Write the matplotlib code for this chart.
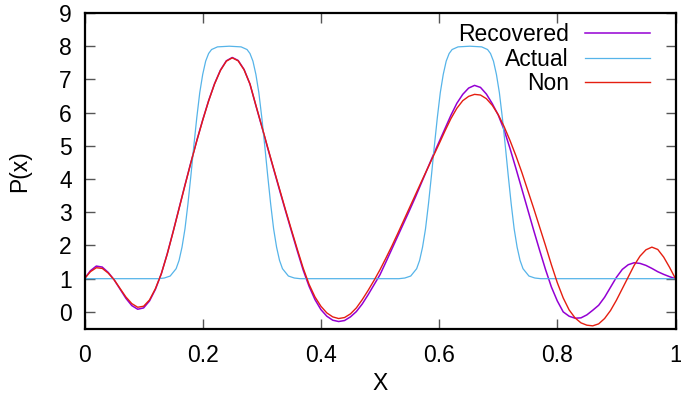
import numpy as np
import matplotlib
matplotlib.use("Agg")
import matplotlib.pyplot as plt

# actual profile: two smoothed top-hats on a baseline of 1
actual_x = [0.0, 0.125, 0.135, 0.145, 0.155, 0.16, 0.165, 0.17, 0.175, 0.18,
            0.185, 0.19, 0.195, 0.2, 0.205, 0.21, 0.215, 0.225, 0.245, 0.265,
            0.275, 0.28, 0.285, 0.29, 0.295, 0.30, 0.305, 0.31, 0.315, 0.32,
            0.325, 0.33, 0.335, 0.345, 0.355, 0.365,
            0.532, 0.542, 0.552, 0.562, 0.567, 0.572, 0.577, 0.582, 0.587,
            0.592, 0.597, 0.602, 0.607, 0.612, 0.617, 0.622, 0.632, 0.652,
            0.672, 0.682, 0.687, 0.692, 0.697, 0.702, 0.707, 0.712, 0.717,
            0.722, 0.727, 0.732, 0.737, 0.742, 0.752, 0.762, 0.772, 1.0]
actual_y = [1.0, 1.0, 1.02, 1.08, 1.3, 1.55, 1.95, 2.5, 3.25, 4.1,
            5.0, 5.85, 6.6, 7.15, 7.55, 7.78, 7.9, 7.98, 8.0, 7.98,
            7.9, 7.78, 7.55, 7.15, 6.6, 5.85, 5.0, 4.1, 3.25, 2.5,
            1.95, 1.55, 1.3, 1.08, 1.02, 1.0,
            1.0, 1.02, 1.08, 1.3, 1.55, 1.95, 2.5, 3.25, 4.1,
            5.0, 5.85, 6.6, 7.15, 7.55, 7.78, 7.9, 7.98, 8.0,
            7.98, 7.9, 7.78, 7.55, 7.15, 6.6, 5.85, 5.0, 4.1,
            3.25, 2.5, 1.95, 1.55, 1.3, 1.08, 1.02, 1.0, 1.0]

# recovered and non-recovered profiles, sampled every 0.01 in x
grid_x = np.linspace(0, 1, 101)
recovered = [1.00, 1.24, 1.38, 1.35, 1.19, 0.97, 0.69, 0.41, 0.19, 0.08,
             0.12, 0.33, 0.68, 1.15, 1.75, 2.42, 3.12, 3.82, 4.50, 5.16,
             5.78, 6.36, 6.87, 7.28, 7.56, 7.66, 7.57, 7.30, 6.86, 6.21,
             5.58, 4.93, 4.30, 3.67, 3.05, 2.44, 1.84, 1.26, 0.77, 0.37,
             0.07, -0.13, -0.25, -0.29, -0.26, -0.15, 0.01, 0.24, 0.52, 0.82,
             1.12, 1.50, 1.89, 2.28, 2.67, 3.06, 3.46, 3.88, 4.30, 4.72,
             5.12, 5.52, 5.92, 6.28, 6.55, 6.74, 6.82, 6.76, 6.56, 6.27,
             5.93, 5.48, 4.92, 4.32, 3.70, 3.08, 2.46, 1.86, 1.28, 0.75,
             0.33, 0.00, -0.13, -0.19, -0.18, -0.09, 0.05, 0.20, 0.44, 0.74,
             1.04, 1.28, 1.42, 1.48, 1.46, 1.40, 1.31, 1.21, 1.13, 1.06,
             1.00]
non = [1.00, 1.21, 1.33, 1.31, 1.17, 0.97, 0.71, 0.45, 0.25, 0.14,
       0.17, 0.36, 0.70, 1.15, 1.74, 2.41, 3.11, 3.81, 4.49, 5.15,
       5.77, 6.35, 6.86, 7.27, 7.55, 7.65, 7.56, 7.29, 6.86, 6.22,
       5.59, 4.95, 4.32, 3.70, 3.08, 2.48, 1.89, 1.32, 0.83, 0.45,
       0.17, -0.03, -0.15, -0.20, -0.17, -0.06, 0.12, 0.37, 0.65, 0.95,
       1.27, 1.62, 1.98, 2.36, 2.75, 3.14, 3.53, 3.92, 4.30, 4.68,
       5.06, 5.45, 5.82, 6.13, 6.36, 6.49, 6.55, 6.53, 6.42, 6.22,
       5.94, 5.58, 5.16, 4.70, 4.20, 3.66, 3.12, 2.56, 2.00, 1.42,
       0.88, 0.42, 0.06, -0.18, -0.33, -0.40, -0.42, -0.36, -0.20, 0.04,
       0.35, 0.70, 1.05, 1.40, 1.68, 1.87, 1.95, 1.88, 1.65, 1.34,
       1.00]

FS = 16.5
plt.rcParams["font.family"] = ["Liberation Sans", "DejaVu Sans"]
plt.rcParams["font.size"] = FS

fig = plt.figure(figsize=(6.81, 4.01), dpi=100)
ax = fig.add_axes([84.5 / 681, 1 - 328.5 / 401, 591 / 681, 315.5 / 401])

ax.plot(grid_x, recovered, color="#9400D3", lw=1.1, label="Recovered")
ax.plot(actual_x, actual_y, color="#56B4E9", lw=0.9, label="Actual")
ax.plot(grid_x, non, color="#E51E10", lw=1.0, label="Non")

ax.set_xlim(0, 1)
ax.set_ylim(-0.5, 9)
ax.set_xticks([0, 0.2, 0.4, 0.6, 0.8, 1])
ax.set_xticklabels(["0", "0.2", "0.4", "0.6", "0.8", "1"])
ax.set_yticks(range(0, 10))
ax.tick_params(direction="in", length=7, width=1, color="#555555",
               top=True, right=True, labelsize=FS)
ax.tick_params(axis="y", pad=9)
ax.tick_params(axis="x", pad=11)
for s in ax.spines.values():
    s.set_linewidth(1.6)

ax.set_xlabel("X", fontsize=FS, labelpad=4)
ax.set_ylabel("P(x)", fontsize=FS, labelpad=20)

leg = ax.legend(loc="upper right", bbox_to_anchor=(1 - 15 / 591, 1),
                markerfirst=False, frameon=False,
                handlelength=2.85, handletextpad=0.7, labelspacing=0.06,
                borderaxespad=0.05, fontsize=FS)

fig.savefig("out.png", dpi=100)
